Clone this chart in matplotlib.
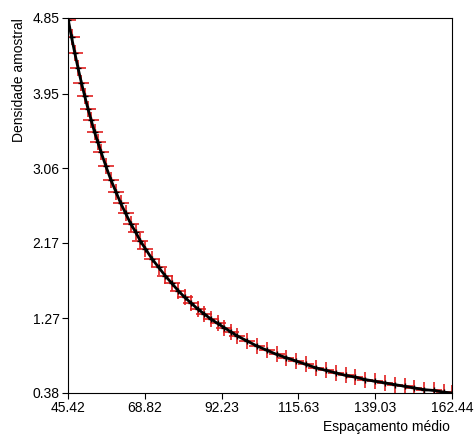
import matplotlib
matplotlib.use("Agg")
import matplotlib.pyplot as plt

plt.rcParams['font.family'] = ['Liberation Sans', 'DejaVu Sans']

# values
spacing = [45.5, 46.5, 47.5, 48.5, 49.5, 50.5, 51.5, 52.5, 53.5, 54.5, 55.5,
           57, 58.5, 60, 61.5, 63, 64.5, 66, 67.5, 69, 71, 73, 75, 77, 79, 81,
           83, 85, 87, 89, 91, 93, 95, 97, 100, 103, 106, 109, 112, 115, 118,
           121, 124, 127, 130, 133, 136, 139, 142, 145, 148, 151, 154, 157,
           160, 162.4]
density = [4.83, 4.62, 4.43, 4.25, 4.08, 3.92, 3.77, 3.63, 3.49, 3.37, 3.25,
           3.08, 2.92, 2.78, 2.64, 2.52, 2.40, 2.30, 2.19, 2.10, 1.98, 1.88,
           1.78, 1.69, 1.60, 1.52, 1.45, 1.38, 1.32, 1.26, 1.21, 1.16, 1.11,
           1.06, 1.00, 0.94, 0.89, 0.84, 0.80, 0.76, 0.72, 0.68, 0.65, 0.62,
           0.59, 0.57, 0.54, 0.52, 0.50, 0.48, 0.46, 0.44, 0.42, 0.41, 0.39,
           0.38]
xticks = [45.42, 68.82, 92.23, 115.63, 139.03, 162.44]
yticks = [0.38, 1.27, 2.17, 3.06, 3.95, 4.85]

fig = plt.figure(figsize=(4.77, 4.37), dpi=100)
ax = fig.add_axes([68 / 477, 44 / 437, 384 / 477, 375 / 437])

ax.plot(spacing, density, color='#e02020', marker='+', linestyle='none',
        markersize=11, markeredgewidth=1.2)
ax.plot(spacing, density, color='black', linewidth=2, marker='+',
        markersize=5, markeredgewidth=1)

ax.set_xlim(xticks[0], xticks[-1])
ax.set_ylim(yticks[0], yticks[-1])
ax.set_xticks(xticks)
ax.set_yticks(yticks)
ax.set_xticklabels([f"{v:.2f}" for v in xticks], fontsize=10)
ax.set_yticklabels([f"{v:.2f}" for v in yticks], fontsize=10)
ax.tick_params(direction='out', length=4, pad=2)

fig.text(450 / 477, 3 / 437, "Espaçamento médio", ha='right', va='bottom', fontsize=10)
fig.text(12 / 477, 419 / 437, "Densidade amostral", rotation=90, ha='left', va='top', fontsize=10)

fig.savefig("out.png", dpi=100)
